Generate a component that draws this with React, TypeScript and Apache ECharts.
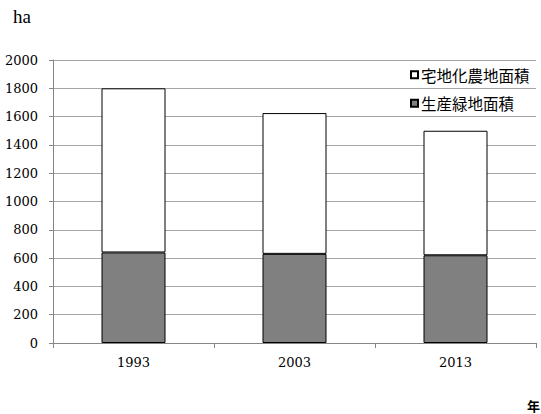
import React, { useEffect, useRef } from "react";
import * as echarts from "echarts";

// 年次
const years = ["1993", "2003", "2013"];
// 生産緑地面積 (ha)
const productiveGreen = [640, 630, 620];
// 宅地化農地面積 (ha)
const residentialFarmland = [1160, 995, 880];

const yTicks = { min: 0, max: 2000, interval: 200 };

const SERIF = "'DejaVu Serif', serif";
const GOTHIC = "'Noto Sans CJK JP', sans-serif";

export default function App() {
  const ref = useRef<HTMLDivElement>(null);

  useEffect(() => {
    if (!ref.current) return;
    const chart = echarts.init(ref.current, null, { renderer: "svg" });
    chart.setOption({
      animation: false,
      backgroundColor: "#ffffff",
      grid: { left: 53, right: 5, top: 60, bottom: 71 },
      legend: {
        orient: "vertical",
        left: 410,
        top: 67,
        padding: 0,
        itemWidth: 7,
        itemHeight: 7,
        itemGap: 13,
        icon: "rect",
        data: ["宅地化農地面積", "生産緑地面積"],
        textStyle: {
          fontFamily: GOTHIC,
          fontSize: 15.5,
          lineHeight: 15.5,
          color: "#000000",
          padding: [0, 0, 0, -2],
        },
      },
      xAxis: {
        type: "category",
        data: years,
        axisLine: { lineStyle: { color: "#868686", width: 1 } },
        axisTick: { show: true, length: 5, lineStyle: { color: "#868686" } },
        axisLabel: {
          fontFamily: SERIF,
          fontSize: 13,
          color: "#000000",
          margin: 13,
        },
      },
      yAxis: {
        type: "value",
        min: yTicks.min,
        max: yTicks.max,
        interval: yTicks.interval,
        axisLine: { show: true, lineStyle: { color: "#868686", width: 1 } },
        axisTick: { show: true, length: 4, lineStyle: { color: "#868686" } },
        splitLine: { lineStyle: { color: "#a6a6a6", width: 1 } },
        axisLabel: {
          fontFamily: SERIF,
          fontSize: 13,
          color: "#000000",
          margin: 15,
          formatter: (v: number) => String(v),
        },
      },
      series: [
        {
          name: "生産緑地面積",
          type: "bar",
          stack: "area",
          barWidth: 64,
          data: productiveGreen,
          itemStyle: { color: "#808080", borderColor: "#000000", borderWidth: 1 },
        },
        {
          name: "宅地化農地面積",
          type: "bar",
          stack: "area",
          barWidth: 64,
          data: residentialFarmland,
          itemStyle: { color: "#ffffff", borderColor: "#000000", borderWidth: 1 },
        },
      ],
      graphic: [
        {
          type: "text",
          left: 13,
          top: 7,
          style: {
            text: "ha",
            font: "19px 'Liberation Serif', serif",
            fill: "#000000",
          },
        },
        {
          type: "text",
          left: 527,
          top: 399,
          style: {
            text: "年",
            font: "bold 13px 'Noto Sans CJK JP', sans-serif",
            fill: "#000000",
          },
        },
      ],
    });
    return () => chart.dispose();
  }, []);

  return (
    <div
      ref={ref}
      style={{ position: "fixed", left: 0, top: 0, width: 541, height: 414 }}
    />
  );
}
